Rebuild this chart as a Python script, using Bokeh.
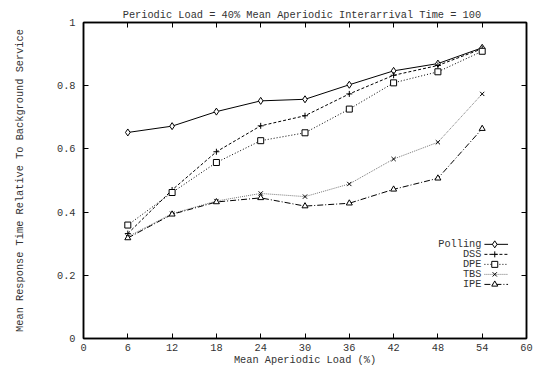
from bokeh.plotting import figure
from bokeh.models import Range1d, FixedTicker, LinearAxis, Label
from bokeh.embed import file_html
from bokeh.resources import INLINE

# ---- data ----
loads = [6, 12, 18, 24, 30, 36, 42, 48, 54]
polling = [0.652, 0.672, 0.718, 0.752, 0.757, 0.803, 0.847, 0.870, 0.920]
dss = [0.332, 0.470, 0.591, 0.673, 0.705, 0.774, 0.833, 0.864, 0.917]
dpe = [0.359, 0.462, 0.557, 0.626, 0.651, 0.726, 0.809, 0.844, 0.909]
tbs = [0.322, 0.395, 0.435, 0.459, 0.449, 0.489, 0.568, 0.621, 0.774]
ipe = [0.318, 0.393, 0.432, 0.445, 0.419, 0.428, 0.472, 0.507, 0.664]
series_names = ["Polling", "DSS", "DPE", "TBS", "IPE"]
x_ticks = [0, 6, 12, 18, 24, 30, 36, 42, 48, 54, 60]
y_ticks = [0, 0.2, 0.4, 0.6, 0.8, 1]
y_tick_labels = ["0", "0.2", "0.4", "0.6", "0.8", "1"]

FONT = "Liberation Mono"
FS = "10.3px"
TXT = "#333333"

p = figure(width=534, height=371, output_backend="svg", toolbar_location=None,
           x_range=Range1d(0, 60), y_range=Range1d(0, 1),
           min_border_left=83, min_border_right=8, min_border_top=22, min_border_bottom=33)
p.grid.visible = False
p.outline_line_color = "black"
p.outline_line_width = 1.5
p.background_fill_color = "white"
p.border_fill_color = "white"

p.title.text = "Periodic Load = 40%  Mean Aperiodic Interarrival Time = 100"
p.title.align = "center"
p.title.text_font = FONT
p.title.text_font_size = FS
p.title.text_font_style = "normal"
p.title.text_color = TXT
p.title.standoff = 4

def style_axis(ax, show_labels=True):
    ax.major_tick_in = 5
    ax.major_tick_out = 0
    ax.minor_tick_line_color = None
    ax.axis_line_color = "black"
    ax.axis_line_width = 1.5
    ax.major_tick_line_color = "black"
    ax.major_label_text_font = FONT
    ax.major_label_text_font_size = FS
    ax.major_label_text_color = TXT if show_labels else None
    ax.axis_label_text_font = FONT
    ax.axis_label_text_font_size = FS
    ax.axis_label_text_font_style = "normal"
    ax.axis_label_text_color = TXT

xa = p.xaxis[0]
xa.ticker = FixedTicker(ticks=x_ticks)
xa.axis_label = "Mean Aperiodic Load (%)"
xa.major_label_standoff = 5
xa.axis_label_standoff = 0
style_axis(xa)

ya = p.yaxis[0]
ya.ticker = FixedTicker(ticks=y_ticks)
ya.major_label_overrides = {t: s for t, s in zip(y_ticks, y_tick_labels)}
ya.axis_label = "Mean Response Time Relative To Background Service"
ya.major_label_standoff = 8
ya.axis_label_standoff = 28
style_axis(ya)

top = LinearAxis(ticker=FixedTicker(ticks=x_ticks))
style_axis(top, False)
top.major_label_text_font_size = "0px"
top.major_label_standoff = 0
p.add_layout(top, "above")
right = LinearAxis(ticker=FixedTicker(ticks=y_ticks))
style_axis(right, False)
right.major_label_text_font_size = "0px"
right.major_label_standoff = 0
p.add_layout(right, "right")

styles = [
    dict(ys=polling, dash="solid", color="black", marker="diamond", size=7),
    dict(ys=dss, dash="3 2", color="black", marker="cross", size=6),
    dict(ys=dpe, dash="1 2", color="black", marker="square", size=6),
    dict(ys=tbs, dash="1 1", color="#777777", marker="x", size=6),
    dict(ys=ipe, dash="6 2 1 2", color="black", marker="triangle", size=6),
]

# legend anchor (in data units) for the gnuplot-style key
key_text_x = 53.9
key_line_x0, key_line_x1, key_mark_x = 54.3, 57.5, 55.7
key_y0, key_dy = 0.298, 0.0317

for i, (name, st) in enumerate(zip(series_names, styles)):
    p.line(loads, st["ys"], line_color=st["color"], line_width=1, line_dash=st["dash"])
    p.scatter(loads, st["ys"], marker=st["marker"], size=st["size"],
              line_color="black", fill_color="white", line_width=1)
    ky = key_y0 - i * key_dy
    p.line([key_line_x0, key_line_x1], [ky, ky], line_color=st["color"], line_width=1,
           line_dash=st["dash"])
    p.scatter([key_mark_x], [ky], marker=st["marker"], size=st["size"],
              line_color="black", fill_color="white", line_width=1)
    p.add_layout(Label(x=key_text_x, y=ky, text=name, text_font=FONT, text_font_size=FS,
                       text_color=TXT, text_align="right", text_baseline="middle"))

open("out.html", "w").write(file_html(p, INLINE))
